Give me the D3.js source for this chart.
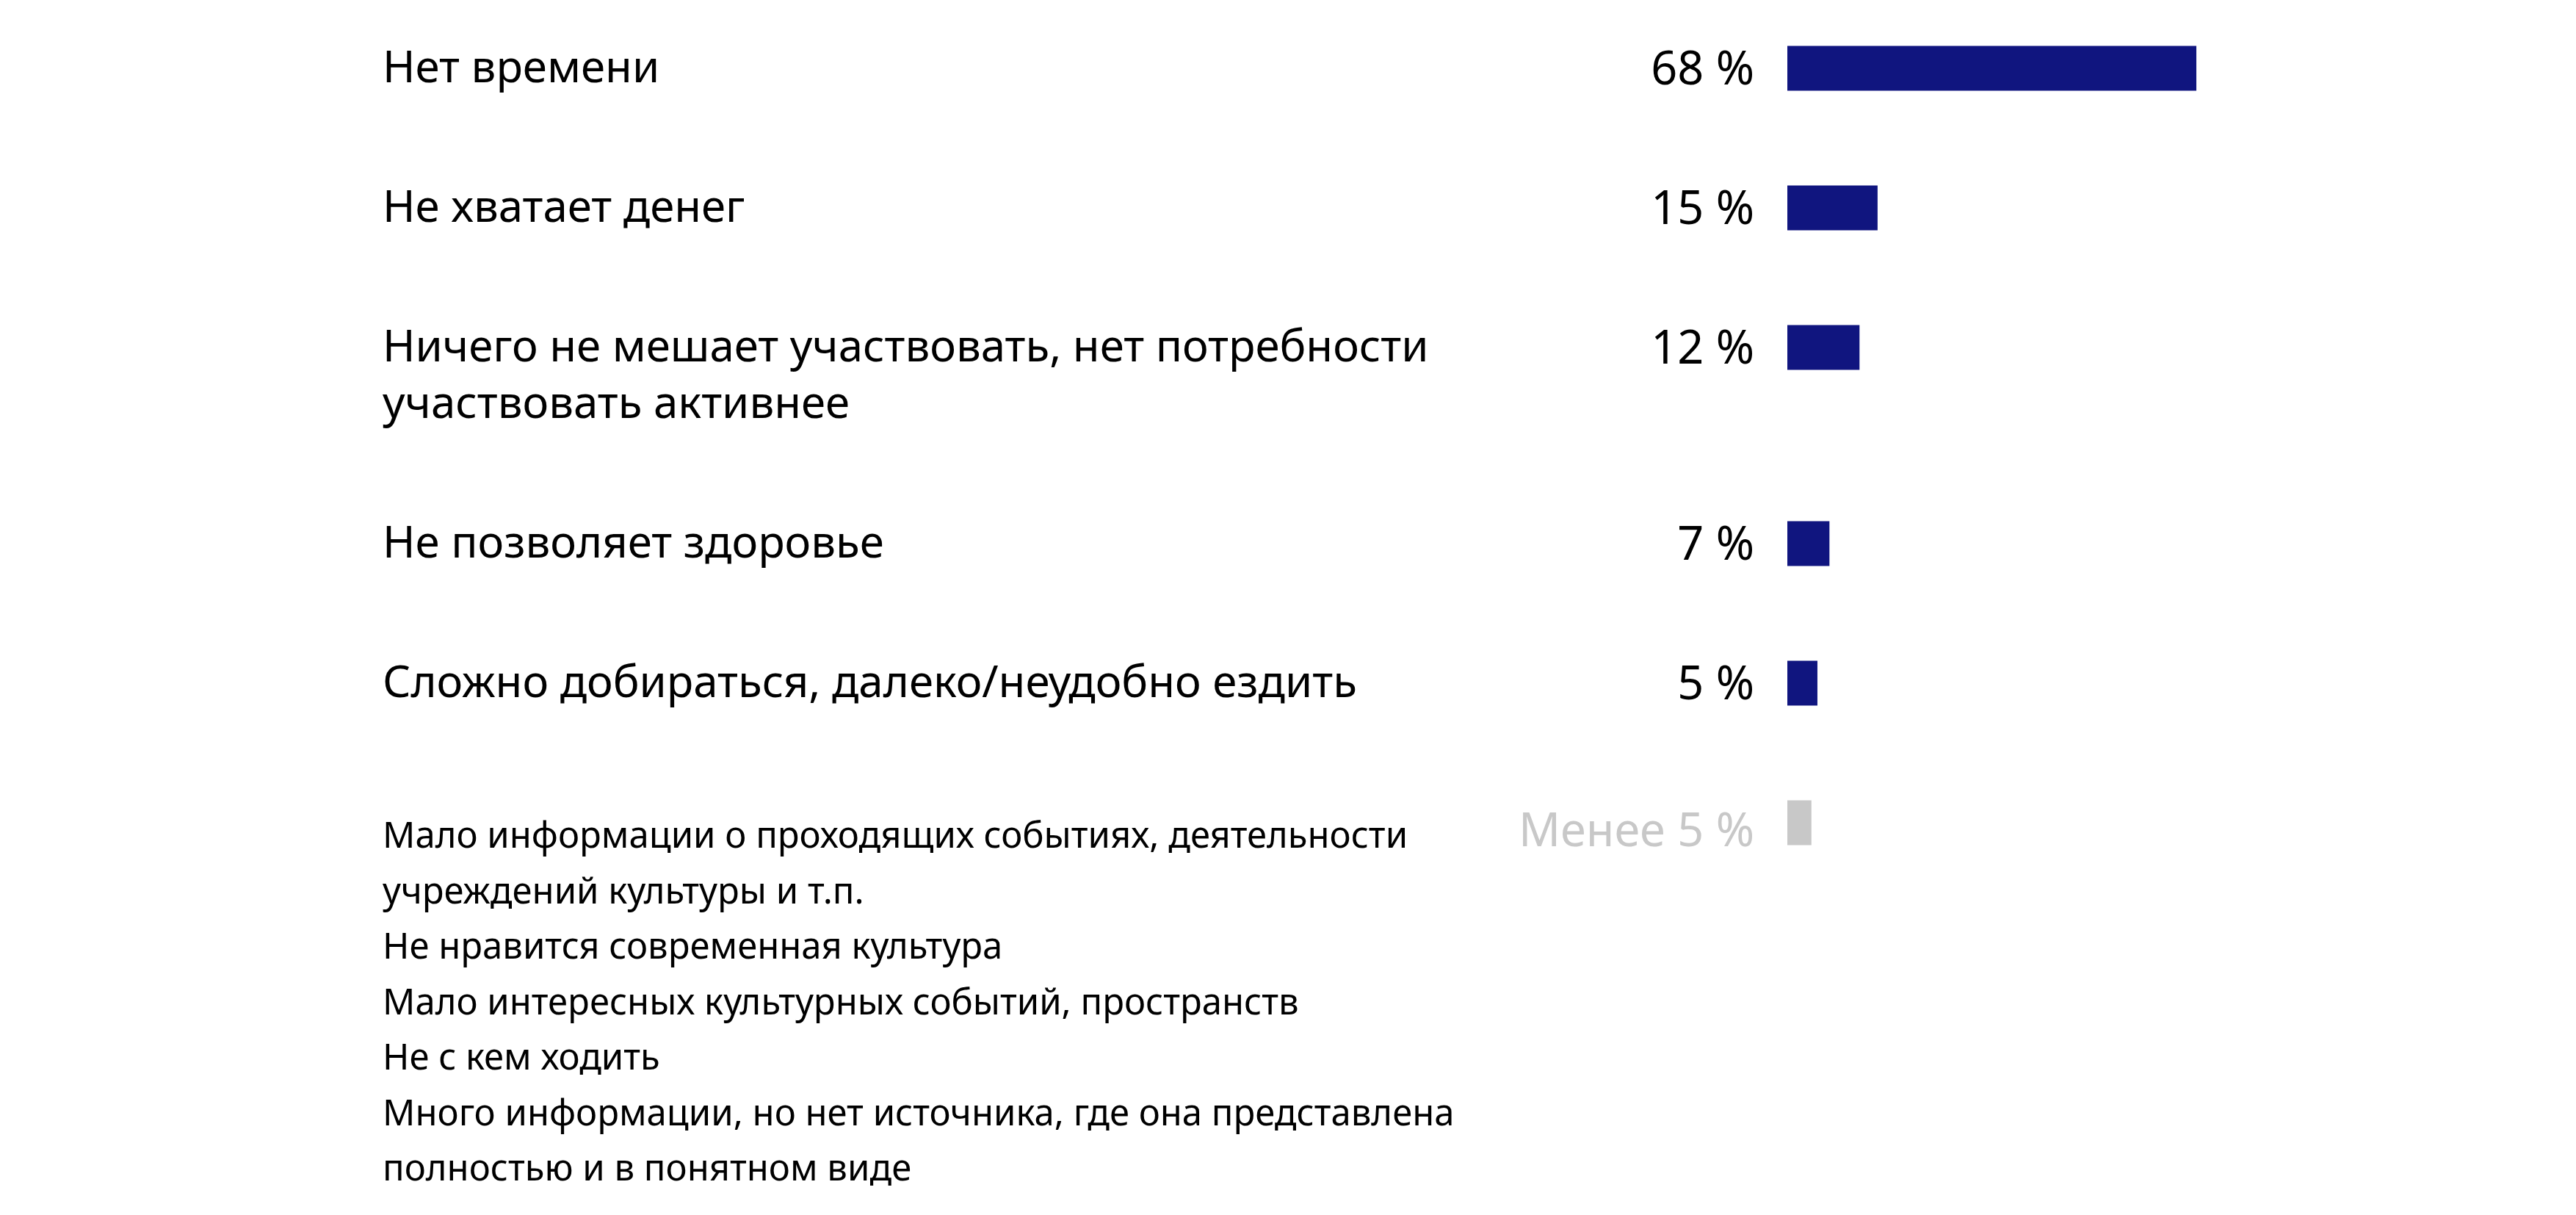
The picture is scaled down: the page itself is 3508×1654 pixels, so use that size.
<!DOCTYPE html>
<html><head><meta charset="utf-8">
<script src="https://cdn.jsdelivr.net/npm/d3@7/dist/d3.min.js"></script>
<style>
html,body{margin:0;padding:0;background:#fff;}
svg text{font-family:"Noto Sans",sans-serif;}
</style></head>
<body>
<svg id="chart" width="3508" height="1654"></svg>
<script>
// ---- data ----
const categories = [
  ["Нет времени"],
  ["Не хватает денег"],
  ["Ничего не мешает участвовать, нет потребности", "участвовать активнее"],
  ["Не позволяет здоровье"],
  ["Сложно добираться, далеко/неудобно ездить"]
];
const values = [68, 15, 12, 7, 5];
const valueLabels = ["68 %", "15 %", "12 %", "7 %", "5 %"];

const otherLabels = [
  "Мало информации о проходящих событиях, деятельности",
  "учреждений культуры и т.п.",
  "Не нравится современная культура",
  "Мало интересных культурных событий, пространств",
  "Не с кем ходить",
  "Много информации, но нет источника, где она представлена",
  "полностью и в понятном виде"
];
const otherValue = 4;
const otherValueLabel = "Менее 5 %";

// ---- layout ----
const svg = d3.select("#chart");
const labelX = 521, valueRight = 2389, barX0 = 2434;
const barH = 61, lineH = 77, rowGap = 113;
const mainSize = 60, valueSize = 63, smallSize = 49;
const barColor = "#10157f", grayColor = "#c8c8c8";

const x = d3.scaleLinear().domain([0, 68]).range([0, 557]);

// cumulative row offsets (px) from number of label lines
const rows = categories.map((c, i) => ({lines: c, value: values[i], label: valueLabels[i]}));
let acc = 0;
rows.forEach(r => { r.pos = acc; acc += r.lines.length * lineH + rowGap; });
const otherPos = acc;
const y = d3.scaleLinear().domain([0, 1000]).range([93, 1093]); // row centre positions

const g = svg.append("g");
const row = g.selectAll("g.row").data(rows).join("g").attr("class", "row")
  .attr("transform", d => `translate(0,${y(d.pos)})`);

row.append("rect")
  .attr("x", barX0).attr("y", -barH / 2)
  .attr("width", d => x(d.value)).attr("height", barH)
  .attr("fill", barColor);

row.append("text")
  .attr("x", valueRight).attr("y", 22)
  .attr("text-anchor", "end")
  .attr("font-size", valueSize).attr("fill", "#000")
  .text(d => d.label);

row.each(function(d) {
  d3.select(this).selectAll("text.lab").data(d.lines).join("text").attr("class", "lab")
    .attr("x", labelX).attr("y", (t, j) => 19 + j * lineH)
    .attr("font-size", mainSize).attr("fill", "#000")
    .text(t => t);
});

// other group
const og = g.append("g").attr("transform", `translate(0,${y(otherPos)})`);
og.append("rect")
  .attr("x", barX0).attr("y", -barH / 2)
  .attr("width", x(otherValue)).attr("height", barH)
  .attr("fill", grayColor);
og.append("text")
  .attr("x", valueRight).attr("y", 32)
  .attr("text-anchor", "end")
  .attr("font-size", valueSize).attr("fill", grayColor)
  .text(otherValueLabel);
og.selectAll("text.ol").data(otherLabels).join("text").attr("class", "ol")
  .attr("x", labelX).attr("y", (t, j) => 34 + j * 75.5)
  .attr("font-size", smallSize).attr("fill", "#000")
  .text(t => t);
</script>
</body></html>
